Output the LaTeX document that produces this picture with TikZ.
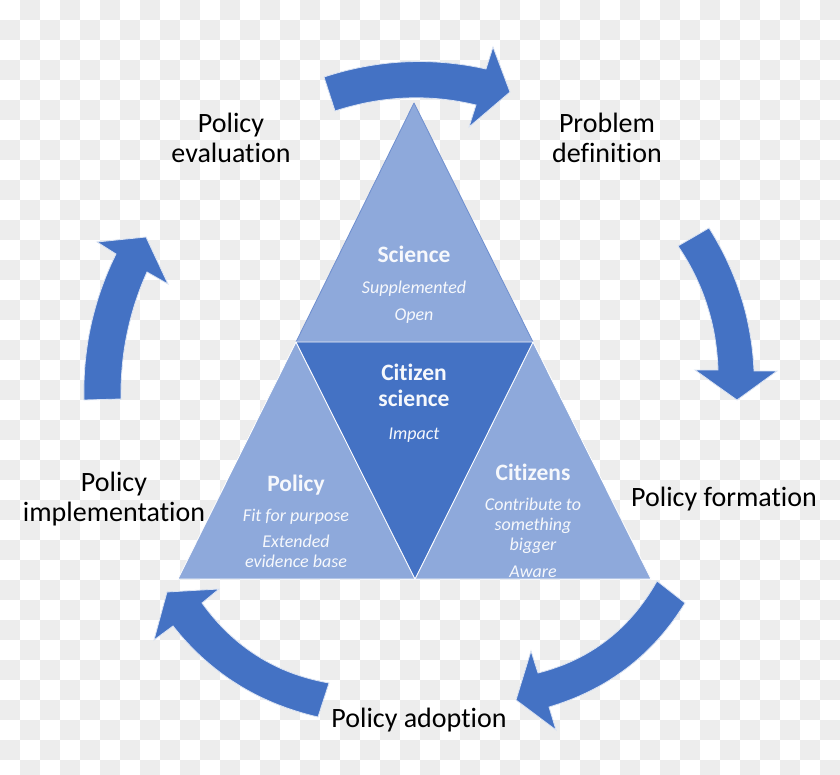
\documentclass[tikz,border=0pt]{standalone}
\usepackage{fontspec}
\setmainfont[Ligatures=CommonOff]{Carlito}
\definecolor{chk}{HTML}{EDEDED}
\definecolor{dk}{HTML}{4472C4}
\definecolor{lt}{HTML}{8EA9DB}
\definecolor{rim}{HTML}{DAE3F3}
\definecolor{edgeblue}{HTML}{6F8FCF}
\tikzset{
  blockarrow/.style={fill=dk,draw=rim,line width=0.8pt,line join=miter},
  lighttri/.style={fill=lt,draw=white,line width=0.8pt,line join=round},
  toptri/.style={fill=lt,draw=edgeblue,line width=0.8pt,line join=round},
  darktri/.style={fill=dk,draw=white,line width=0.8pt,line join=round},
  stage/.style={text=black,align=center,font=\fontsize{28}{30}\selectfont,inner sep=0pt},
  inner/.style={text=white!92!lt,align=center,inner sep=0pt,font=\fontsize{18}{20}\selectfont\itshape},
}
\newcommand{\hd}[1]{{\fontsize{23.5}{26}\selectfont\bfseries\upshape #1}}
\begin{document}
\begin{tikzpicture}[x=1pt,y=-1pt]
\useasboundingbox (0,0) rectangle (840,775);
\fill[white] (0,0) rectangle (840,775);
\foreach \i in {0,...,41}{\foreach \j in {0,...,38}{
  \pgfmathparse{int(mod(\i+\j,2))}
  \ifnum\pgfmathresult=1 \fill[chk] (20*\i,20*\j) rectangle (20*\i+20,20*\j+20);\fi
}}
% triangles
\draw[toptri] (414,103) -- (533,342) -- (296,342) -- cycle;
\draw[lighttri] (296,342) -- (415,579) -- (178,579) -- cycle;
\draw[lighttri] (533,342) -- (651,579) -- (415,579) -- cycle;
\draw[darktri] (296,342) -- (533,342) -- (415,579) -- cycle;
% arrows
\draw[blockarrow] (324,77) .. controls (378,59.3) and (432,57) .. (486,69) -- (493,47) -- (510,92) -- (469,127) -- (476,105) .. controls (429,93.7) and (382,95.7) .. (335,111) -- cycle;
\draw[blockarrow] (678,246) -- (709,228) .. controls (736.7,271.7) and (751.7,319.3) .. (754,371) -- (777,371) -- (737,400) -- (695,370) -- (718,370) .. controls (716.7,324.7) and (703.3,283.3) .. cycle;
\draw[blockarrow] (657,581) -- (685,603) .. controls (653,655) and (607.7,689.7) .. (549,707) -- (556,730) -- (516,700) -- (531,651) -- (538,673) .. controls (590.3,659.7) and (630,629) .. cycle;
\draw[blockarrow] (329,683) -- (318,717) .. controls (258.3,703.3) and (210,673) .. (173,626) -- (154,640) -- (167,592) -- (219,589) -- (202,603) .. controls (233.7,647) and (276,673.7) .. cycle;
\draw[blockarrow] (84,400) -- (121,399) .. controls (120.3,354.7) and (129,312.3) .. (147,272) -- (168,284) -- (146,237) -- (97,242) -- (116,254) .. controls (93.3,300) and (82.7,348.7) .. cycle;
% stage labels
\node[stage] (evaluation) at (231,138) {Policy\\evaluation};
\node[stage] (problem) at (607,138) {Problem\\definition};
\node[stage] (formation) at (724,499) {Policy formation};
\node[stage] (adoption) at (419,720) {Policy adoption};
\node[stage] (implementation) at (114,499) {Policy\\implementation};
% triangle labels
\node[inner] (science) at (414,285) {\hd{Science}\\[11pt]Supplemented\\[7pt]Open};
\node[inner] (citizensci) at (414,403.5) {\hd{Citizen}\\[6pt]\hd{science}\\[13pt]Impact};
\node[inner] (policy) at (296,521.5) {\hd{Policy}\\[10pt]Fit for purpose\\[6pt]Extended\\evidence base};
\node[inner] (citizens) at (533,521) {\hd{Citizens}\\[10pt]Contribute to\\something\\bigger\\[7pt]Aware};
\end{tikzpicture}
\end{document}
